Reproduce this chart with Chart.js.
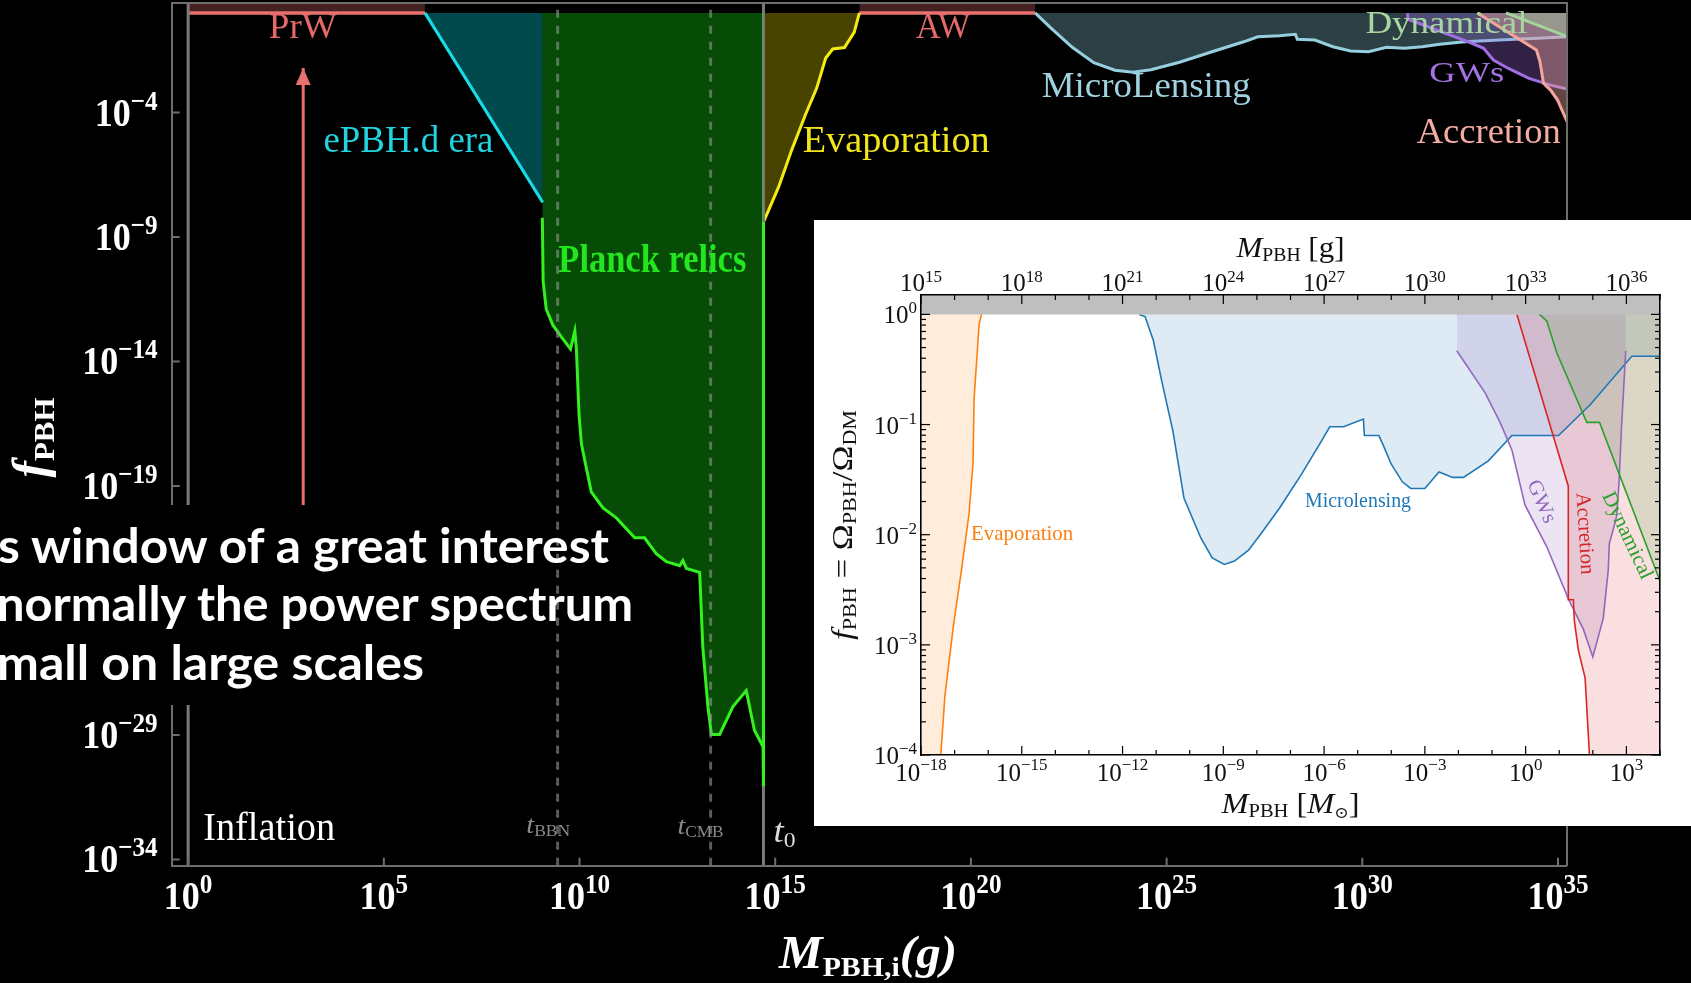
<!DOCTYPE html>
<html>
<head>
<meta charset="utf-8">
<script src="https://cdn.jsdelivr.net/npm/chart.js"></script>
<style>
html,body{margin:0;padding:0;background:#000;}
body{width:1691px;height:983px;position:relative;overflow:hidden;}
#mainWrap{position:absolute;left:0;top:0;width:1691px;height:983px;}
#note{position:absolute;left:0;top:0;pointer-events:none;}
#insetWrap{position:absolute;left:814px;top:220px;width:877px;height:606px;background:#fff;}
</style>
</head>
<body>
<div id="mainWrap"><canvas id="mainChart" width="1691" height="983"></canvas></div>
<svg id="note" width="720" height="983" xmlns="http://www.w3.org/2000/svg">
  <rect x="0" y="505" width="520" height="200" fill="#000"/>
  <g font-family="Lato, 'Open Sans', sans-serif" font-weight="700" font-size="47" fill="#fff">
    <text x="-2" y="563" textLength="611" lengthAdjust="spacingAndGlyphs">s window of a great interest</text>
    <text x="-3" y="621" textLength="636" lengthAdjust="spacingAndGlyphs">normally the power spectrum</text>
    <text x="-3" y="680" textLength="427" lengthAdjust="spacingAndGlyphs">mall on large scales</text>
  </g>
</svg>
<div id="insetWrap"><canvas id="insetChart" width="877" height="606"></canvas></div>
<script>
// ================= DATA (log10 values) =================
// ---- main chart: x = log10(M_PBH,i / g), y = log10(f_PBH) ----
const mainXTickExps = [0, 5, 10, 15, 20, 25, 30, 35];
const mainYTickExps = [-4, -9, -14, -19, -24, -29, -34];

const prwLogM = [0, 6.05];
const prwLogF = [0, 0];
const awLogM = [17.15, 21.64];
const awLogF = [0, 0];
const epbhLogM = [6.05, 9.06];
const epbhLogF = [0, -7.61];
const planckLogM = [9.05, 9.07, 9.15, 9.32, 9.54, 9.77, 9.88, 9.92, 9.99, 10.05, 10.30, 10.60, 10.94, 11.41, 11.66, 11.96, 12.22, 12.56, 12.64, 12.73, 13.07, 13.15, 13.28, 13.37, 13.58, 13.92, 14.26, 14.47, 14.69, 14.70, 14.70];
const planckLogF = [-8.23, -10.78, -11.90, -12.54, -13.02, -13.50, -12.78, -13.50, -16.21, -17.33, -19.24, -19.88, -20.28, -21.08, -21.08, -21.72, -22.04, -22.20, -21.99, -22.31, -22.47, -25.47, -27.86, -28.98, -28.98, -27.86, -27.22, -28.82, -29.47, -31.06, -8.40];
const evapLogM = [14.70, 15.09, 15.42, 15.78, 16.06, 16.29, 16.47, 16.77, 17.02, 17.15];
const evapLogF = [-8.40, -6.98, -5.51, -4.06, -3.02, -1.81, -1.45, -1.39, -0.77, 0];
const microLogM = [21.64, 22.04, 22.59, 23.14, 23.68, 24.14, 24.60, 25.33, 26.24, 26.97, 27.33, 27.88, 28.29, 28.34, 28.79, 29.25, 29.70, 30.16, 30.62, 31.07, 31.53, 31.98, 32.62, 33.50, 34.48, 35.30];
const microLogF = [0, -0.60, -1.38, -2.00, -2.30, -2.38, -2.28, -1.98, -1.52, -1.16, -0.96, -0.92, -0.86, -1.06, -1.09, -1.36, -1.53, -1.56, -1.38, -1.42, -1.36, -1.26, -1.16, -1.09, -1.02, -0.95];
const gwLogM = [31.16, 31.16, 32.71, 33.10, 33.35, 33.72, 34.26, 34.81, 35.30];
const gwLogF = [0, -0.25, -1.16, -1.42, -1.89, -2.22, -2.63, -2.90, -3.08];
const accLogM = [32.94, 33.63, 34.45, 34.54, 34.63, 34.81, 34.99, 35.10, 35.30];
const accLogF = [0, -0.69, -1.49, -1.96, -2.83, -3.10, -3.50, -3.90, -4.60];
const dynLogM = [33.67, 35.30];
const dynLogF = [0, -0.99];
const epochNames = ['Inflation', 'tBBN', 'tCMB', 't0'];
const epochLogM = [0, 9.44, 13.35, 14.70];
const arrowLogM = [2.94, 2.94];
const arrowLogF = [-22, -2.21];

// ---- inset: x = log10(M_PBH / M_sun), y = log10(f_PBH) ----
const insetXTickExps = [-18, -15, -12, -9, -6, -3, 0, 3];
const insetTopTickExps = [15, 18, 21, 24, 27, 30, 33, 36];
const insetYTickExps = [0, -1, -2, -3, -4];
const inEvapLogM = [-17.41, -17.29, -17.04, -16.79, -16.57, -16.45, -16.42, -16.27, -16.20];
const inEvapLogF = [-4.0, -3.47, -2.84, -2.31, -1.81, -1.34, -0.77, -0.09, 0];
const inMicroLogM = [-11.5, -11.33, -11.08, -10.83, -10.5, -10.17, -9.67, -9.33, -8.97, -8.67, -8.25, -7.83, -7.33, -6.67, -6.08, -5.83, -5.42, -4.83, -4.8, -4.37, -4.25, -4.0, -3.67, -3.42, -3.0, -2.58, -2.17, -1.85, -1.11, -0.41, 0.98, 1.92, 3.16, 4.0];
const inMicroLogF = [0, -0.02, -0.24, -0.61, -1.06, -1.67, -2.03, -2.21, -2.27, -2.24, -2.14, -1.97, -1.76, -1.45, -1.15, -1.02, -1.02, -0.95, -1.10, -1.10, -1.18, -1.36, -1.52, -1.58, -1.58, -1.43, -1.48, -1.48, -1.33, -1.10, -1.10, -0.82, -0.38, -0.38];
const inGwLogM = [-2.05, -1.21, -0.76, -0.41, -0.02, 0.63, 1.27, 1.72, 2.0, 2.31, 2.46, 2.49, 2.61, 2.71, 2.78, 2.85, 2.98];
const inGwLogF = [-0.33, -0.71, -0.98, -1.23, -1.73, -2.11, -2.58, -2.86, -3.11, -2.76, -2.32, -2.08, -1.95, -1.83, -1.53, -1.05, -0.33];
const inAccLogM = [-0.26, 1.27, 1.27, 1.42, 1.45, 1.57, 1.77, 1.90];
const inAccLogF = [0, -1.56, -2.59, -2.59, -2.78, -3.05, -3.30, -4.0];
const inDynLogM = [0.41, 0.63, 0.93, 1.82, 2.20, 4.0];
const inDynLogF = [0, -0.06, -0.35, -0.98, -0.98, -2.42];

// ================= helpers =================
const P = (lx, ly) => lx.map((v, i) => ({ x: 10 ** v, y: 10 ** ly[i] }));
const SERIF = '"Liberation Serif", "Times New Roman", serif';
function lineDs(label, data, color, width, extra) {
  return Object.assign({ label, data, borderColor: color, borderWidth: width, pointRadius: 0,
    pointHoverRadius: 0, fill: false, tension: 0, backgroundColor: 'rgba(0,0,0,0)' }, extra || {});
}
function rich(ctx, parts, x, y, o) {
  o = o || {};
  ctx.save();
  ctx.translate(x, y);
  if (o.rot) ctx.rotate(o.rot * Math.PI / 180);
  let w = 0;
  for (const p of parts) { ctx.font = p.font; p._w = ctx.measureText(p.text).width; w += p._w; }
  const sx = o.width ? o.width / w : (o.sx || 1);
  ctx.scale(sx, 1);
  let cx = o.align === 'right' ? -w : (o.align === 'left' ? 0 : -w / 2);
  ctx.textBaseline = o.baseline || 'alphabetic';
  ctx.textAlign = 'left';
  for (const p of parts) {
    ctx.font = p.font; ctx.fillStyle = p.color || o.color || '#000';
    ctx.fillText(p.text, cx, p.dy || 0); cx += p._w;
  }
  ctx.restore();
}
const expText = e => (e < 0 ? '\u2212' + Math.abs(e) : String(e));

// ================= MAIN CHART =================
const MX0 = -0.42, MX1 = 35.22, MY0 = -34.25, MY1 = 0.386;
const vline = lm => P([lm, lm], [MY0, MY1]);

const mainDatasets = [
  lineDs('t_BBN', vline(epochLogM[1]), 'rgba(150,150,150,0.6)', 3, { borderDash: [8, 8], order: 0 }),
  lineDs('t_CMB', vline(epochLogM[2]), 'rgba(150,150,150,0.6)', 3, { borderDash: [8, 8], order: 0 }),
  lineDs('arrow', P(arrowLogM, arrowLogF), '#e8706f', 3, { order: 1 }),
  lineDs('Planck relics', P(planckLogM, planckLogF), '#33f01e', 3, { fill: { value: 1 }, backgroundColor: 'rgba(20,235,20,0.32)', order: 2 }),
  lineDs('Inflation', vline(epochLogM[0]), '#7a7a7a', 3, { order: 3 }),
  lineDs('t_0', vline(epochLogM[3]), '#7a7a7a', 3, { order: 3 }),
  lineDs('Evaporation', P(evapLogM, evapLogF), '#f5eb14', 3, { fill: { value: 1 }, backgroundColor: 'rgba(240,225,0,0.3)', order: 4 }),
  lineDs('ePBH.d era', P(epbhLogM, epbhLogF), '#19dce6', 3, { fill: { value: 1 }, backgroundColor: 'rgba(0,225,235,0.33)', order: 5 }),
  lineDs('PrW', P(prwLogM, prwLogF), '#e8706f', 3.5, { fill: 'end', backgroundColor: 'rgba(232,110,110,0.3)', order: 6 }),
  lineDs('AW', P(awLogM, awLogF), '#e8706f', 3.5, { fill: 'end', backgroundColor: 'rgba(232,110,110,0.3)', order: 6 }),
  lineDs('Dynamical', P(dynLogM, dynLogF), '#a3d69a', 3, { fill: { value: 1 }, backgroundColor: 'rgba(170,220,160,0.35)', order: 7 }),
  lineDs('Accretion', P(accLogM, accLogF), '#f3a59c', 3, { fill: { value: 1 }, backgroundColor: 'rgba(245,170,160,0.4)', order: 8 }),
  lineDs('GWs', P(gwLogM, gwLogF), '#9f6ee0', 3, { fill: { value: 1 }, backgroundColor: 'rgba(160,110,230,0.3)', order: 9 }),
  lineDs('MicroLensing', P(microLogM, microLogF), '#95cfdf', 3, { fill: { value: 1 }, backgroundColor: 'rgba(143,207,224,0.3)', order: 10 })
];

const mainLabels = [
  { t: 'PrW', x: 2.93, y: -1.01, size: 35, w: 68, c: '#e46a6a' },
  { t: 'AW', x: 19.29, y: -1.01, size: 35, w: 54, c: '#e46a6a' },
  { t: 'ePBH.d era', x: 5.63, y: -5.59, size: 37, w: 170, c: '#22d4e0' },
  { t: 'Planck relics', x: 11.86, y: -10.39, size: 40, w: 188, c: '#22e61e', bold: true },
  { t: 'Evaporation', x: 18.09, y: -5.57, size: 38, w: 187, c: '#f2e61a' },
  { t: 'MicroLensing', x: 24.48, y: -3.37, size: 36, w: 209, c: '#9fd2de' },
  { t: 'Dynamical', x: 32.15, y: -0.82, size: 31, w: 162, c: '#a8d6a0' },
  { t: 'GWs', x: 32.67, y: -2.78, size: 30, w: 75, c: '#a472e2' },
  { t: 'Accretion', x: 33.23, y: -5.24, size: 35, w: 144, c: '#f4aca2' },
  { t: 'Inflation', x: 2.07, y: -33.22, size: 40, w: 132, c: '#ffffff' }
];

const mainDecor = {
  id: 'mainDecor',
  afterDatasetsDraw(chart) {
    const { ctx, chartArea: a, scales: { x, y } } = chart;
    const px = v => x.getPixelForValue(10 ** v), py = v => y.getPixelForValue(10 ** v);
    ctx.save();
    // inward tick marks
    ctx.strokeStyle = '#6e6e6e'; ctx.lineWidth = 2;
    for (const e of mainXTickExps) { const X = px(e); ctx.beginPath(); ctx.moveTo(X, a.bottom); ctx.lineTo(X, a.bottom - 8); ctx.stroke(); }
    for (const e of mainYTickExps) { const Y = py(e); ctx.beginPath(); ctx.moveTo(a.left, Y); ctx.lineTo(a.left + 8, Y); ctx.stroke(); }
    // tick labels
    const tb = 'bold 40px ' + SERIF, ts = 'bold 28px ' + SERIF;
    for (const e of mainXTickExps) {
      rich(ctx, [{ text: '10', font: tb }, { text: expText(e), font: ts, dy: -16 }],
        px(e), a.bottom + 43, { align: 'center', sx: 0.9, color: '#ffffff' });
    }
    for (const e of mainYTickExps) {
      rich(ctx, [{ text: '10', font: tb }, { text: expText(e), font: ts, dy: -16 }],
        a.left - 14, py(e) + 13, { align: 'right', sx: 0.9, color: '#ffffff' });
    }
    // region labels
    for (const L of mainLabels) {
      rich(ctx, [{ text: L.t, font: (L.bold ? 'bold ' : '') + L.size + 'px ' + SERIF }], px(L.x), py(L.y), { align: 'center', width: L.w, color: L.c });
    }
    // epoch labels
    rich(ctx, [{ text: 't', font: 'italic 26px ' + SERIF }, { text: 'BBN', font: '16px ' + SERIF, dy: 3 }], px(9.20), py(-32.94), { align: 'center', width: 44, color: '#8a8a8a' });
    rich(ctx, [{ text: 't', font: 'italic 26px ' + SERIF }, { text: 'CMB', font: '16px ' + SERIF, dy: 3 }], px(13.09), py(-32.98), { align: 'center', width: 46, color: '#8a8a8a' });
    rich(ctx, [{ text: 't', font: 'italic 34px ' + SERIF }, { text: '0', font: '22px ' + SERIF, dy: 5 }], px(15.24), py(-33.30), { align: 'center', width: 22, color: '#dcdcdc' });
    // arrow head
    const tip = chart.getDatasetMeta(2).data[1];
    ctx.fillStyle = '#e8706f';
    ctx.beginPath(); ctx.moveTo(tip.x, tip.y); ctx.lineTo(tip.x - 7.5, tip.y + 17); ctx.lineTo(tip.x + 7.5, tip.y + 17); ctx.closePath(); ctx.fill();
    // axis titles
    rich(ctx, [{ text: 'f', font: 'italic bold 48px ' + SERIF }, { text: 'PBH', font: 'bold 30px ' + SERIF, dy: 8 }],
      46, (a.top + a.bottom) / 2 + 3, { rot: -90, align: 'center', width: 80, color: '#ffffff' });
    rich(ctx, [{ text: 'M', font: 'italic bold 46px ' + SERIF }, { text: 'PBH,i', font: 'bold 28px ' + SERIF, dy: 8 }, { text: '(g)', font: 'italic bold 46px ' + SERIF }],
      868, 968, { align: 'center', width: 178, color: '#ffffff' });
    ctx.restore();
  }
};

const grayBorder = { display: true, color: '#6e6e6e', width: 2, z: 1 };
new Chart(document.getElementById('mainChart'), {
  type: 'line',
  data: { datasets: mainDatasets },
  options: {
    responsive: false, animation: false, events: [],
    layout: { padding: { left: 0, top: 3.3, right: 124.4, bottom: 0 } },
    plugins: { legend: { display: false }, tooltip: { enabled: false } },
    scales: {
      x: { type: 'logarithmic', position: 'bottom', min: 10 ** MX0, max: 10 ** MX1, ticks: { display: false }, grid: { display: false }, border: grayBorder, afterFit: s => { s.height = 117.3; } },
      x2: { type: 'logarithmic', position: 'top', min: 10 ** MX0, max: 10 ** MX1, ticks: { display: false }, grid: { display: false }, border: grayBorder, afterFit: s => { s.height = 0; } },
      y: { type: 'logarithmic', position: 'left', min: 10 ** MY0, max: 10 ** MY1, ticks: { display: false }, grid: { display: false }, border: grayBorder, afterFit: s => { s.width = 171.7; } },
      y2: { type: 'logarithmic', position: 'right', min: 10 ** MY0, max: 10 ** MY1, ticks: { display: false }, grid: { display: false }, border: grayBorder, afterFit: s => { s.width = 0; } }
    }
  },
  plugins: [mainDecor]
});

// ================= INSET CHART =================
const IX0 = -18, IX1 = 4, IY0 = -4, IY1 = Math.log10(1.5);
const inAccFill = P(inAccLogM.concat([IX1 + 0.1]), inAccLogF.concat([IY0]));
const inEvapFill = P([IX0 - 0.1].concat(inEvapLogM), [IY0].concat(inEvapLogF));
const insetDatasets = [
  lineDs('f>1', P([IX0 - 0.1, IX1 + 0.1], [0, 0]), 'rgba(0,0,0,0)', 0, { fill: 'end', backgroundColor: '#bfbfbf', order: 0 }),
  lineDs('Accretion', P(inAccLogM, inAccLogF), '#d62728', 1.6, { order: 1 }),
  lineDs('Dynamical', P(inDynLogM, inDynLogF), '#2ca02c', 1.6, { order: 1 }),
  lineDs('GWs', P(inGwLogM, inGwLogF), '#9467bd', 1.6, { order: 2 }),
  lineDs('Microlensing', P(inMicroLogM, inMicroLogF), '#1f77b4', 1.6, { order: 2 }),
  lineDs('Evaporation', P(inEvapLogM, inEvapLogF), '#ff7f0e', 1.6, { order: 2 }),
  lineDs('Dynamical fill', P(inDynLogM, inDynLogF), 'rgba(0,0,0,0)', 0, { fill: 'end', backgroundColor: 'rgba(44,160,44,0.15)', order: 5 }),
  lineDs('Accretion fill', inAccFill, 'rgba(0,0,0,0)', 0, { fill: 'end', backgroundColor: 'rgba(214,39,40,0.15)', order: 6 }),
  lineDs('GWs fill', P(inGwLogM, inGwLogF), 'rgba(0,0,0,0)', 0, { fill: 'end', backgroundColor: 'rgba(148,103,189,0.18)', order: 7 }),
  lineDs('Microlensing fill', P(inMicroLogM, inMicroLogF), 'rgba(0,0,0,0)', 0, { fill: 'end', backgroundColor: 'rgba(31,119,180,0.15)', order: 8 }),
  lineDs('Evaporation fill', inEvapFill, 'rgba(0,0,0,0)', 0, { fill: 'end', backgroundColor: 'rgba(255,127,14,0.15)', order: 9 })
];

const insetLabels = [
  { t: 'Evaporation', x: -14.99, y: -2.05, w: 102, c: '#ff7f0e', rot: 0, base: 'alphabetic' },
  { t: 'Microlensing', x: -4.99, y: -1.745, w: 106, c: '#1f77b4', rot: 0, base: 'alphabetic' },
  { t: 'GWs', x: 0.46, y: -1.70, w: 45, c: '#9467bd', rot: 66.4, base: 'middle' },
  { t: 'Accretion', x: 1.75, y: -1.99, w: 82, c: '#d62728', rot: 86.5, base: 'middle' },
  { t: 'Dynamical', x: 3.02, y: -2.01, w: 94, c: '#2ca02c', rot: 64.8, base: 'middle' }
];

const insetDecor = {
  id: 'insetDecor',
  afterDatasetsDraw(chart) {
    const { ctx, chartArea: a, scales: { x, x2, y } } = chart;
    ctx.save();
    ctx.strokeStyle = '#000'; ctx.lineWidth = 1.2;
    const seg = (x1, y1, x2_, y2_) => { ctx.beginPath(); ctx.moveTo(x1, y1); ctx.lineTo(x2_, y2_); ctx.stroke(); };
    for (let e = IX0; e <= IX1; e++) {
      const X = x.getPixelForValue(10 ** e);
      seg(X, a.bottom, X, a.bottom - (insetXTickExps.includes(e) ? 9 : 5));
    }
    for (let e = 15; e <= 37; e++) {
      const X = x2.getPixelForValue(10 ** e);
      seg(X, a.top, X, a.top + (insetTopTickExps.includes(e) ? 9 : 5));
    }
    for (let e = IY0; e <= 0; e++) {
      for (let m = 1; m <= 9; m++) {
        const v = m * 10 ** e; if (v > 1.5) break;
        const Y = y.getPixelForValue(v); const L = m === 1 ? 9 : 5;
        seg(a.left, Y, a.left + L, Y); seg(a.right, Y, a.right - L, Y);
      }
    }
    const base = '25px ' + SERIF, sup = '17px ' + SERIF;
    for (const e of insetXTickExps) {
      rich(ctx, [{ text: '10', font: base }, { text: expText(e), font: sup, dy: -11 }], x.getPixelForValue(10 ** e), a.bottom + 26, { align: 'center', color: '#111' });
    }
    for (const e of insetTopTickExps) {
      rich(ctx, [{ text: '10', font: base }, { text: String(e), font: sup, dy: -9 }], x2.getPixelForValue(10 ** e), a.top - 4, { align: 'center', color: '#111' });
    }
    for (const e of insetYTickExps) {
      rich(ctx, [{ text: '10', font: base }, { text: expText(e), font: sup, dy: -10 }], a.left - 4, y.getPixelForValue(10 ** e) + 9, { align: 'right', color: '#111' });
    }
    for (const L of insetLabels) {
      rich(ctx, [{ text: L.t, font: '21px ' + SERIF }], x.getPixelForValue(10 ** L.x), y.getPixelForValue(10 ** L.y),
        { align: 'center', width: L.w, color: L.c, rot: L.rot, baseline: L.base });
    }
    // axis titles
    const big = '30px ' + SERIF, ital = 'italic 30px ' + SERIF, sub = '19px ' + SERIF;
    const midX = (a.left + a.right) / 2;
    rich(ctx, [{ text: 'M', font: ital }, { text: 'PBH', font: sub, dy: 4 }, { text: ' [g]', font: big }],
      midX, 36.7, { align: 'center', width: 108, color: '#111' });
    rich(ctx, [{ text: 'M', font: ital }, { text: 'PBH', font: sub, dy: 4 }, { text: ' [', font: big }, { text: 'M', font: ital }, { text: '\u2299', font: '16px "DejaVu Serif", serif', dy: 5 }, { text: ']', font: big }],
      midX, 593, { align: 'center', width: 138, color: '#111' });
    rich(ctx, [{ text: 'f', font: ital }, { text: 'PBH', font: sub, dy: 4 }, { text: ' = \u03A9', font: big }, { text: 'PBH', font: sub, dy: 4 }, { text: '/\u03A9', font: big }, { text: 'DM', font: sub, dy: 4 }],
      38, 305, { rot: -90, align: 'center', width: 230, color: '#111' });
    ctx.restore();
  }
};

const blackBorder = { display: true, color: '#000', width: 1.6, z: 1 };
new Chart(document.getElementById('insetChart'), {
  type: 'line',
  data: { datasets: insetDatasets },
  options: {
    responsive: false, animation: false, events: [],
    layout: { padding: { left: 0, top: 0, right: 31, bottom: 0 } },
    plugins: { legend: { display: false }, tooltip: { enabled: false } },
    scales: {
      x: { type: 'logarithmic', position: 'bottom', min: 10 ** IX0, max: 10 ** IX1, ticks: { display: false }, grid: { display: false }, border: blackBorder, afterFit: s => { s.height = 71; } },
      x2: { type: 'logarithmic', position: 'top', min: 10 ** (IX0 + 33), max: 10 ** (IX1 + 33), ticks: { display: false }, grid: { display: false }, border: blackBorder, afterFit: s => { s.height = 75; } },
      y: { type: 'logarithmic', position: 'left', min: 10 ** IY0, max: 10 ** IY1, ticks: { display: false }, grid: { display: false }, border: blackBorder, afterFit: s => { s.width = 107; } },
      y2: { type: 'logarithmic', position: 'right', min: 10 ** IY0, max: 10 ** IY1, ticks: { display: false }, grid: { display: false }, border: blackBorder, afterFit: s => { s.width = 0; } }
    }
  },
  plugins: [insetDecor]
});
</script>
</body>
</html>
